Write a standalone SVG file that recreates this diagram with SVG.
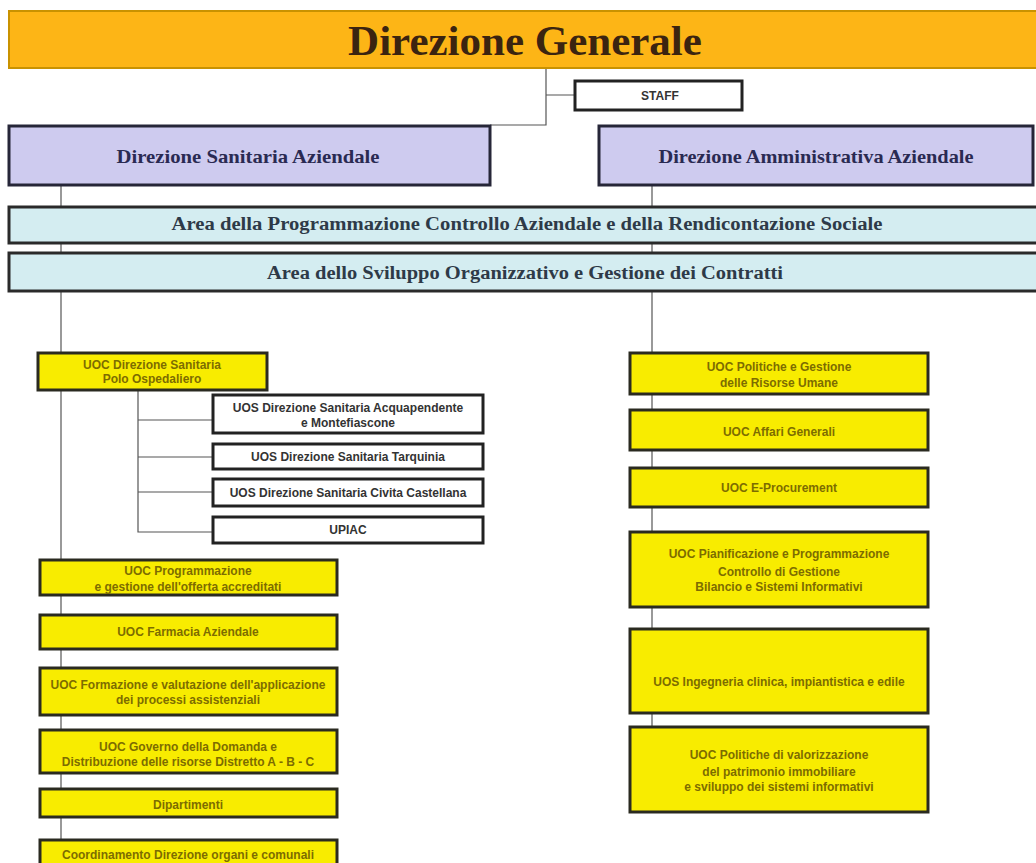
<svg xmlns="http://www.w3.org/2000/svg" width="1036" height="863" viewBox="0 0 1036 863">
<style>
.ln{stroke:#555;stroke-width:1.2;fill:none}
.dir{fill:#CECBEF;stroke:#262638;stroke-width:3}
.area{fill:#D4EDF1;stroke:#2a2a2a;stroke-width:3}
.y{fill:#F8EC00;stroke:#2a2a20;stroke-width:3}
.w{fill:#fff;stroke:#222;stroke-width:3}
.ts{font-family:"Liberation Serif","Times New Roman",serif;font-weight:bold;text-anchor:middle}
.ty{font-family:"Liberation Sans",Arial,sans-serif;font-weight:bold;font-size:12px;fill:#7d6c00;text-anchor:middle}
.tw{font-family:"Liberation Sans",Arial,sans-serif;font-weight:bold;font-size:12px;fill:#333;text-anchor:middle}
</style>
<rect width="1036" height="863" fill="#fff"/>
<g id="connectors">
<path class="ln" d="M546 68V125H490M546 95H575"/>
<path class="ln" d="M61 185V840"/>
<path class="ln" d="M652 185V727"/>
<path class="ln" d="M138 390V532H213M138 420H213M138 457H213M138 492H213"/>
</g>
<g id="direzione-generale">
<rect x="9" y="11" width="1030" height="57" fill="#FDB516" stroke="#C99200" stroke-width="2"/>
<text class="ts" x="525" y="55" font-size="43" fill="#3b2410">Direzione Generale</text>
</g>
<g id="staff">
<rect class="w" x="575" y="81" width="167" height="29"/>
<text class="tw" x="660" y="100" fill="#111">STAFF</text>
</g>
<g id="dir-sanitaria">
<rect class="dir" x="9" y="126" width="481" height="59"/>
<text class="ts" x="248" y="163" font-size="19" fill="#2a2a52" textLength="263" lengthAdjust="spacingAndGlyphs">Direzione Sanitaria Aziendale</text>
</g>
<g id="dir-amministrativa">
<rect class="dir" x="599" y="126" width="434" height="59"/>
<text class="ts" x="816" y="163" font-size="19" fill="#2a2a52" textLength="315" lengthAdjust="spacingAndGlyphs">Direzione Amministrativa Aziendale</text>
</g>
<g id="area-programmazione">
<rect class="area" x="9" y="207" width="1030" height="36"/>
<text class="ts" x="527" y="230" font-size="18" fill="#2e3a48" textLength="711" lengthAdjust="spacingAndGlyphs">Area della Programmazione  Controllo Aziendale e della Rendicontazione Sociale</text>
</g>
<g id="area-sviluppo">
<rect class="area" x="9" y="253" width="1030" height="38"/>
<text class="ts" x="525" y="279" font-size="18" fill="#2e3a48" textLength="516" lengthAdjust="spacingAndGlyphs">Area dello Sviluppo Organizzativo e Gestione dei Contratti</text>
</g>
<g id="uoc-polo">
<rect class="y" x="38" y="353" width="229" height="37"/>
<text class="ty" x="152" y="369">UOC Direzione Sanitaria</text>
<text class="ty" x="152" y="383">Polo Ospedaliero</text>
</g>
<g id="uos-acquapendente">
<rect class="w" x="213" y="395" width="270" height="38"/>
<text class="tw" x="348" y="412">UOS Direzione Sanitaria Acquapendente</text>
<text class="tw" x="348" y="427">e Montefiascone</text>
</g>
<g id="uos-tarquinia">
<rect class="w" x="213" y="444" width="270" height="25"/>
<text class="tw" x="348" y="461">UOS Direzione Sanitaria Tarquinia</text>
</g>
<g id="uos-civita">
<rect class="w" x="213" y="479" width="270" height="27"/>
<text class="tw" x="348" y="497">UOS Direzione Sanitaria Civita Castellana</text>
</g>
<g id="upiac">
<rect class="w" x="213" y="517" width="270" height="26"/>
<text class="tw" x="348" y="534">UPIAC</text>
</g>
<g id="uoc-programmazione">
<rect class="y" x="40" y="560" width="297" height="35"/>
<text class="ty" x="188" y="575">UOC Programmazione</text>
<text class="ty" x="188" y="591">e gestione dell'offerta accreditati</text>
</g>
<g id="uoc-farmacia">
<rect class="y" x="40" y="615" width="297" height="34"/>
<text class="ty" x="188" y="636">UOC Farmacia Aziendale</text>
</g>
<g id="uoc-formazione">
<rect class="y" x="40" y="668" width="297" height="47"/>
<text class="ty" x="188" y="689">UOC Formazione e valutazione dell'applicazione</text>
<text class="ty" x="188" y="704">dei processi assistenziali</text>
</g>
<g id="uoc-governo">
<rect class="y" x="40" y="730" width="297" height="43"/>
<text class="ty" x="188" y="751">UOC Governo della Domanda e</text>
<text class="ty" x="188" y="766">Distribuzione delle risorse Distretto A - B - C</text>
</g>
<g id="dipartimenti">
<rect class="y" x="40" y="789" width="297" height="28"/>
<text class="ty" x="188" y="809">Dipartimenti</text>
</g>
<g id="coordinamento">
<rect class="y" x="40" y="840" width="297" height="30"/>
<text class="ty" x="188" y="859">Coordinamento Direzione organi e comunali</text>
</g>
<g id="uoc-risorse-umane">
<rect class="y" x="630" y="353" width="298" height="41"/>
<text class="ty" x="779" y="371">UOC Politiche e Gestione</text>
<text class="ty" x="779" y="387">delle Risorse Umane</text>
</g>
<g id="uoc-affari">
<rect class="y" x="630" y="410" width="298" height="40"/>
<text class="ty" x="779" y="436">UOC Affari Generali</text>
</g>
<g id="uoc-eprocurement">
<rect class="y" x="630" y="468" width="298" height="39"/>
<text class="ty" x="779" y="492">UOC E-Procurement</text>
</g>
<g id="uoc-pianificazione">
<rect class="y" x="630" y="532" width="298" height="75"/>
<text class="ty" x="779" y="558">UOC Pianificazione e Programmazione</text>
<text class="ty" x="779" y="576">Controllo di Gestione</text>
<text class="ty" x="779" y="591">Bilancio e Sistemi Informativi</text>
</g>
<g id="uos-ingegneria">
<rect class="y" x="630" y="629" width="298" height="84"/>
<text class="ty" x="779" y="686">UOS Ingegneria clinica, impiantistica e edile</text>
</g>
<g id="uoc-patrimonio">
<rect class="y" x="630" y="727" width="298" height="85"/>
<text class="ty" x="779" y="759">UOC Politiche di valorizzazione</text>
<text class="ty" x="779" y="776">del patrimonio immobiliare</text>
<text class="ty" x="779" y="791">e sviluppo dei sistemi informativi</text>
</g>
</svg>
